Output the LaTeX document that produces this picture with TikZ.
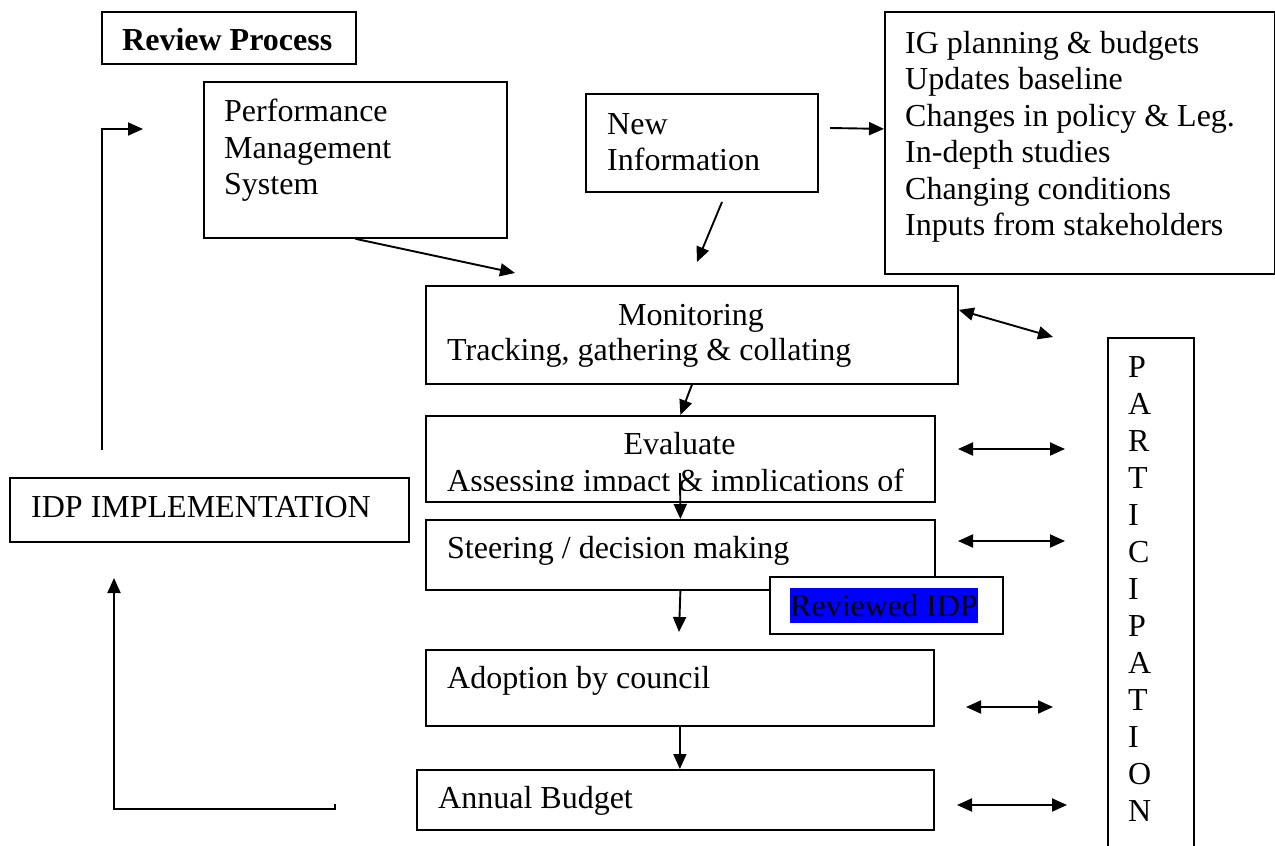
\documentclass[tikz,border=0pt]{standalone}
\usepackage{fontspec}
\setmainfont{Liberation Serif}
\usetikzlibrary{arrows.meta,positioning}

\begin{document}
\begin{tikzpicture}[x=1pt,y=-1pt,font=\fontsize{32}{36.5}\selectfont]
       \tikzstyle{boxnode}=[draw, line width=1.8pt, fill=white, anchor=north west, inner sep=0pt]
       \tikzstyle{textnode}=[anchor=base west, inner sep=0pt]
       \tikzstyle{linesnode}=[anchor=north west, inner sep=0pt, align=left]
       \tikzstyle{arrow}=[line width=1.9pt, -{Triangle[length=15pt,width=13pt]}]
       \tikzstyle{twoway}=[line width=1.9pt, {Triangle[length=15pt,width=13pt]}-{Triangle[length=15pt,width=13pt]}]
       \useasboundingbox (0,0) rectangle (1275,846);

       % boxes
       \node[boxnode, minimum width=254, minimum height=52] (review) at (101,11) {};
       \node[boxnode, minimum width=303, minimum height=156] (pms) at (203,81) {};
       \node[boxnode, minimum width=232, minimum height=98] (newinfo) at (585,93) {};
       \node[boxnode, minimum width=390, minimum height=262] (inputs) at (884,11) {};
       \node[boxnode, minimum width=532, minimum height=98] (monitor) at (425,285) {};
       \node[boxnode, minimum width=509, minimum height=86] (evaluate) at (425,415) {};
       \node[boxnode, minimum width=509, minimum height=70] (steering) at (425,519) {};
       \node[boxnode, minimum width=233, minimum height=57] (reviewed) at (769,576) {};
       \node[boxnode, minimum width=508, minimum height=76] (adoption) at (425,649) {};
       \node[boxnode, minimum width=517, minimum height=60] (budget) at (416,769) {};
       \node[boxnode, minimum width=399, minimum height=64] (idp) at (9,477) {};
       \node[boxnode, minimum width=86, minimum height=530] (particip) at (1107,337) {};

       % texts
       \node[textnode] (reviewtext) at ([shift={(21,39)}]review.north west) {\textbf{Review Process}};
       \node[linesnode] (pmstext) at ([shift={(21,18)}]pms.north west) {Performance\\Management\\System};
       \node[linesnode] (newtext) at ([shift={(22,20)}]newinfo.north west) {New\\Information};
       \node[linesnode] (inputstext) at ([shift={(21,20)}]inputs.north west) {IG planning \& budgets\\Updates baseline\\Changes in policy \& Leg.\\In-depth studies\\Changing conditions\\Inputs from stakeholders};
       \node[anchor=base, inner sep=0pt] (montitle) at (691,325) {Monitoring};
       \node[textnode] (montext) at ([shift={(22,75)}]monitor.north west) {Tracking, gathering \& collating};
       \node[anchor=base, inner sep=0pt] (evaltitle) at (679.5,454) {Evaluate};
       \begin{scope}
        \clip (evaluate.north west) rectangle (934,490);
        \node[textnode] (evaltext) at ([shift={(22,76)}]evaluate.north west) {Assessing impact \& implications of};
       \end{scope}
       \node[textnode] (steertext) at ([shift={(22,39)}]steering.north west) {Steering / decision making};
       \node[textnode, fill=blue, text height=28pt, text depth=7pt] (reviewedtext) at ([shift={(21,40)}]reviewed.north west) {Reviewed IDP};
       \node[textnode] (adopttext) at ([shift={(22,39)}]adoption.north west) {Adoption by council};
       \node[textnode] (budgettext) at ([shift={(22,39)}]budget.north west) {Annual Budget};
       \node[textnode] (idptext) at ([shift={(22,40)}]idp.north west) {IDP IMPLEMENTATION};
       \node[linesnode, font=\fontsize{32}{37}\selectfont] (participtext) at ([shift={(21,19)}]particip.north west) {P\\A\\R\\T\\I\\C\\I\\P\\A\\T\\I\\O\\N};

       % free ends
       \coordinate (idpup) at (102,450);
       \coordinate (pmsin) at (143,129);
       \coordinate (monin) at (515,273);
       \coordinate (newout) at (722,202);
       \coordinate (monin2) at (697,262);
       \coordinate (newright) at (830,128);
       \coordinate (part1) at (1053,337);
       \coordinate (evalout) at (680,473);
       \coordinate (adoptin) at (679,632);
       \coordinate (budgetout) at (335,804);
       \coordinate (corner) at (114,809);
       \coordinate (idpin) at (114,578);

       % connectors
       \draw[arrow] (idpup) |- (pmsin);
       \draw[arrow] (pms.south) -- (monin);
       \draw[arrow] (newout) -- (monin2);
       \draw[arrow] (newright) -- ([yshift=14pt]inputs.west);
       \draw[twoway] ([yshift=25pt]monitor.east) -- (part1);
       \draw[arrow] (monitor.south) -- (evaluate.north);
       \draw[arrow] (evalout) -- (steering.north);
       \draw[arrow] (steering.south) -- (adoptin);
       \draw[arrow] (adoption.south) -- (adoption.south |- budget.north);
       \draw[twoway] (958,449) -- (1065,449);
       \draw[twoway] (958,541) -- (1065,541);
       \draw[twoway] (966,707) -- (1053,707);
       \draw[twoway] (957,805) -- (1067,805);
       \draw[arrow] (budgetout) |- (corner) -- (idpin);
      \end{tikzpicture}
\end{document}
